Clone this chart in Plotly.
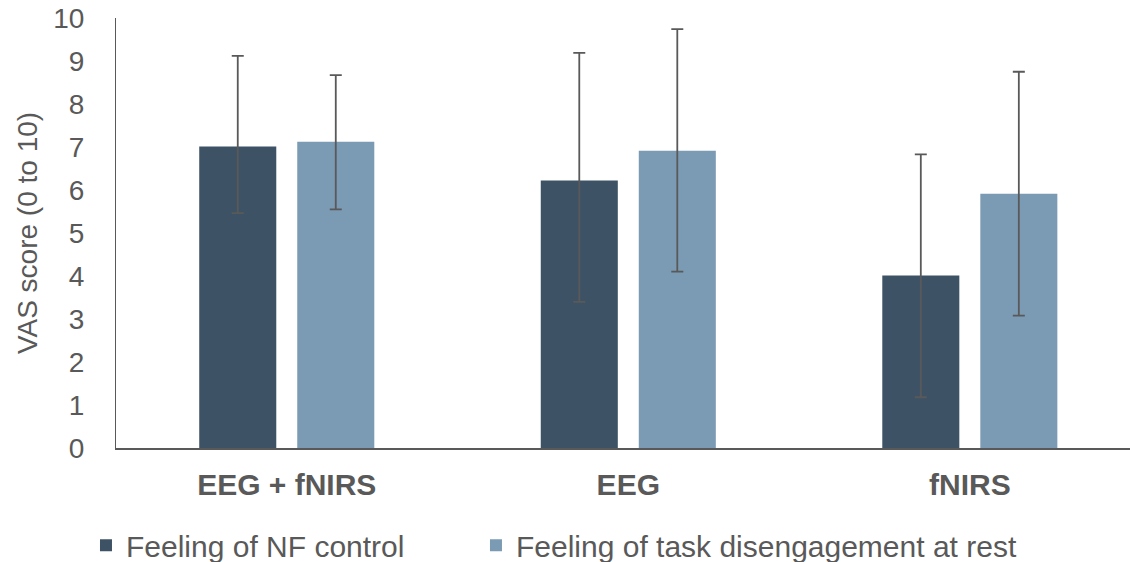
import plotly.graph_objects as go

categories = ["EEG + fNIRS", "EEG", "fNIRS"]
series_names = ["Feeling of NF control", "Feeling of task disengagement at rest"]
nf_control = [7.01, 6.22, 4.01]
nf_control_err_plus = [2.11, 2.97, 2.82]
nf_control_err_minus = [1.55, 2.82, 2.83]
disengagement = [7.12, 6.91, 5.91]
disengagement_err_plus = [1.55, 2.83, 2.84]
disengagement_err_minus = [1.57, 2.81, 2.83]
y_ticks = list(range(0, 11))

dark = "#3E5266"
light = "#7B9AB3"
grey = "#595959"
font_family = "Liberation Sans, Arial, sans-serif"

fig = go.Figure()
fig.add_trace(go.Bar(
    x=categories, y=nf_control, name=series_names[0], legend="legend",
    marker=dict(color=dark, line=dict(width=0)),
    error_y=dict(type="data", symmetric=False, array=nf_control_err_plus,
                 arrayminus=nf_control_err_minus, color=grey, thickness=1.8, width=6),
))
fig.add_trace(go.Bar(
    x=categories, y=disengagement, name=series_names[1], legend="legend2",
    marker=dict(color=light, line=dict(width=0)),
    error_y=dict(type="data", symmetric=False, array=disengagement_err_plus,
                 arrayminus=disengagement_err_minus, color=grey, thickness=1.8, width=6),
))

legend_common = dict(
    orientation="h", yanchor="middle", y=-0.226, xanchor="left",
    font=dict(size=30, color=grey, family=font_family),
    bgcolor="rgba(0,0,0,0)",
)

fig.update_layout(
    width=1130, height=562,
    margin=dict(l=116, r=0, t=18, b=114, autoexpand=False),
    paper_bgcolor="white", plot_bgcolor="white",
    barmode="group", bargap=0.426, bargroupgap=0.214,
    font=dict(family=font_family, color=grey),
    showlegend=True,
    legend=dict(x=-0.0296, **legend_common),
    legend2=dict(x=0.355, **legend_common),
)
fig.update_xaxes(
    range=[-0.5, 2.469], showgrid=False, zeroline=False,
    showline=True, linecolor=grey, linewidth=2,
    ticks="outside", ticklen=9, tickcolor="rgba(0,0,0,0)",
    tickfont=dict(size=30, color=grey, family=font_family, weight="bold"),
    automargin=False,
)
fig.update_yaxes(
    range=[0, 10], tickvals=y_ticks, showgrid=False, zeroline=False,
    showline=True, linecolor=grey, linewidth=1.2,
    ticks="outside", ticklen=25, tickcolor="rgba(0,0,0,0)",
    tickfont=dict(size=28, color=grey, family=font_family),
    title=dict(text="VAS score (0 to 10)", standoff=7,
               font=dict(size=28, color=grey, family=font_family)),
    automargin=False,
)

# remove the browser's default 8px body margin so the figure fills the window
fig.write_html(
    "out.html",
    config={"displayModeBar": False},
    post_script="document.body.style.margin='0';document.body.style.overflow='hidden';",
)
